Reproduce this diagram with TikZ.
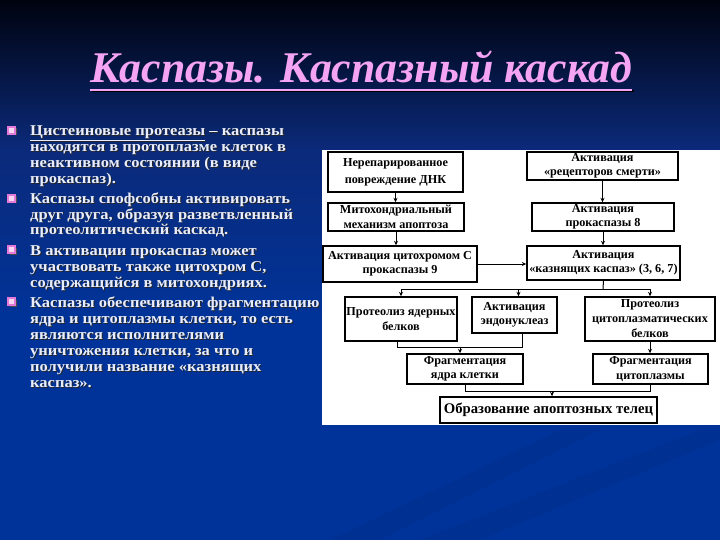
\documentclass[tikz,border=0pt]{standalone}
\usepackage{fontspec}
\setmainfont{Liberation Serif}
\newfontfamily\bodyfont[FakeStretch=1.1]{Liberation Serif}
\usetikzlibrary{arrows.meta}
\definecolor{bgtop}{HTML}{00030F}
\definecolor{bgmid}{HTML}{0B2A7A}
\definecolor{bgbot}{HTML}{003399}
\definecolor{streak}{HTML}{002E8C}
\definecolor{titlepink}{HTML}{F4A4F2}
\definecolor{bodytext}{HTML}{E8EEFF}
\definecolor{bulletpink}{HTML}{E47AD8}
\newcommand\bline[4]{%
  \node[shadowtxt] (#1s) at (#2+1,#3+1) {#4};
  \node[body] (#1) at (#2,#3) {#4};}
\newcommand\bulletsq[2]{%
  \fill[black!70] (#1+1.5,#2+1.5) rectangle (#1+8.5,#2+8.5);
  \draw[bulletpink, line width=1.3pt, fill=white!70!bulletpink] (#1,#2) rectangle (#1+7,#2+7);}
\begin{document}
\begin{tikzpicture}[x=1pt,y=-1pt,
  box/.style={draw=black, line width=1.4pt, fill=white, inner sep=0pt, align=center,
    font=\bfseries\fontsize{12.2}{14.5}\selectfont},
  conn/.style={line width=1pt, draw=black},
  arr/.style={conn, -{Stealth[length=4.5pt,width=4pt]}},
  body/.style={anchor=base west, inner sep=0pt, font=\bodyfont\bfseries\fontsize{15}{16}\selectfont, text=bodytext},
  shadowtxt/.style={anchor=base west, inner sep=0pt, font=\bodyfont\bfseries\fontsize{15}{16}\selectfont, text=black!85},
  titlefont/.style={inner sep=0pt, anchor=base, font=\bfseries\itshape\fontsize{43.8}{50}\selectfont}
]
\useasboundingbox (0,0) rectangle (720,540);
% background
\shade[top color=bgtop, bottom color=bgmid] (0,0) rectangle (720,150);
\shade[top color=bgmid, bottom color=bgbot] (0,150) rectangle (720,320);
\fill[bgbot] (0,320) rectangle (720,540);
\fill[streak, opacity=0.6] (330,540) -- (560,430) -- (600,430) -- (380,540) -- cycle;
\fill[streak, opacity=0.6] (420,540) -- (700,430) -- (720,430) -- (720,440) -- (480,540) -- cycle;
% title
\node[titlefont, text=titlepink] (title) at (361,83) {Каспазы. Каспазный каскад};
\draw[black, line width=1.8pt] ([yshift=-8pt,xshift=2pt]title.base west) -- ([yshift=-8pt,xshift=2pt]title.base east);
\draw[titlepink, line width=1.8pt] ([yshift=-7pt]title.base west) -- ([yshift=-7pt]title.base east);
% bullets
\bulletsq{8}{127}
\bulletsq{8}{195}
\bulletsq{8}{246}
\bulletsq{8}{298}
% body text
\bline{l1}{30}{136}{ \underline{Цистеиновые протеазы} – каспазы}
\bline{l2}{30}{152}{находятся в протоплазме клеток в}
\bline{l3}{30}{168}{неактивном состоянии (в виде}
\bline{l4}{30}{184}{прокаспаз).}
\bline{l5}{30}{204}{Каспазы спофсобны активировать}
\bline{l6}{30}{219}{друг друга, образуя разветвленный}
\bline{l7}{30}{234}{протеолитический каскад.}
\bline{l8}{30}{255}{В активации прокаспаз может}
\bline{l9}{30}{271}{участвовать также цитохром С,}
\bline{l10}{30}{287}{содержащийся в митохондриях.}
\bline{l11}{30}{307}{Каспазы обеспечивают фрагментацию}
\bline{l12}{30}{323}{ядра и цитоплазмы клетки, то есть}
\bline{l13}{30}{339}{являются исполнителями}
\bline{l14}{30}{355}{уничтожения клетки, за что и}
\bline{l15}{30}{371}{получили название «казнящих}
\bline{l16}{30}{387}{каспаз».}
% diagram panel
\fill[white] (322,150) rectangle (720,425);
\node[box, minimum width=135, minimum height=40, font=\bfseries\fontsize{12.2}{17}\selectfont] (A) at (395.5,172) {Нерепарированное\\повреждение ДНК};
\node[box, minimum width=136, minimum height=28] (B) at (396,217) {Митохондриальный\\механизм апоптоза};
\node[box, minimum width=154, minimum height=36] (C) at (400,264) {Активация цитохромом С\\прокаспазы 9};
\node[box, minimum width=151, minimum height=28] (D) at (602.5,166) {Активация\\«рецепторов смерти»};
\node[box, minimum width=142, minimum height=28] (E) at (603,217) {Активация\\прокаспазы 8};
\node[box, minimum width=153, minimum height=34] (F) at (603.5,263) {Активация\\«казнящих каспаз» (3, 6, 7)};
\node[box, minimum width=112, minimum height=44] (G) at (401,319) {Протеолиз ядерных\\белков};
\node[box, minimum width=85, minimum height=36] (H) at (514.5,315) {Активация\\эндонуклеаз};
\node[box, minimum width=130, minimum height=44, font=\bfseries\fontsize{12.2}{15}\selectfont] (I) at (650,319) {Протеолиз\\цитоплазматических\\белков};
\node[box, minimum width=116, minimum height=30] (J) at (465,369) {Фрагментация\\ядра клетки};
\node[box, minimum width=115, minimum height=30] (K) at (650.5,369) {Фрагментация\\цитоплазмы};
\node[box, minimum width=217, minimum height=26, font=\bfseries\fontsize{14.7}{16}\selectfont] (L) at (548.5,410) {Образование апоптозных телец};
% connectors
\draw[arr] (A.south) -- (A.south |- B.north);
\draw[arr] (B.south) -- (B.south |- C.north);
\draw[arr] (C.east) -- (C.east -| F.west);
\draw[arr] (D.south) -- (D.south |- E.north);
\draw[arr] (E.south) -- (E.south |- F.north);
\coordinate (s) at (603,289);
\draw[conn] (F.south) -- (s);
\draw[conn] (G.north |- s) -- (I.north |- s);
\draw[arr] (G.north |- s) -- (G.north);
\draw[arr] ([xshift=4pt]H.north |- s) -- ([xshift=4pt]H.north);
\draw[arr] (I.north |- s) -- (I.north);
\coordinate (j1) at (460,347);
\draw[conn] ([xshift=-4pt]G.south) |- ([xshift=8pt]H.south |- j1) -- ([xshift=8pt]H.south);
\draw[arr] (j1) -- (j1 |- J.north);
\draw[arr] (I.south) -- (I.south |- K.north);
\coordinate (j2) at (552,391);
\draw[conn] (J.south) |- (K.south |- j2) -- (K.south);
\draw[arr] (j2) -- (j2 |- L.north);
\end{tikzpicture}
\end{document}
